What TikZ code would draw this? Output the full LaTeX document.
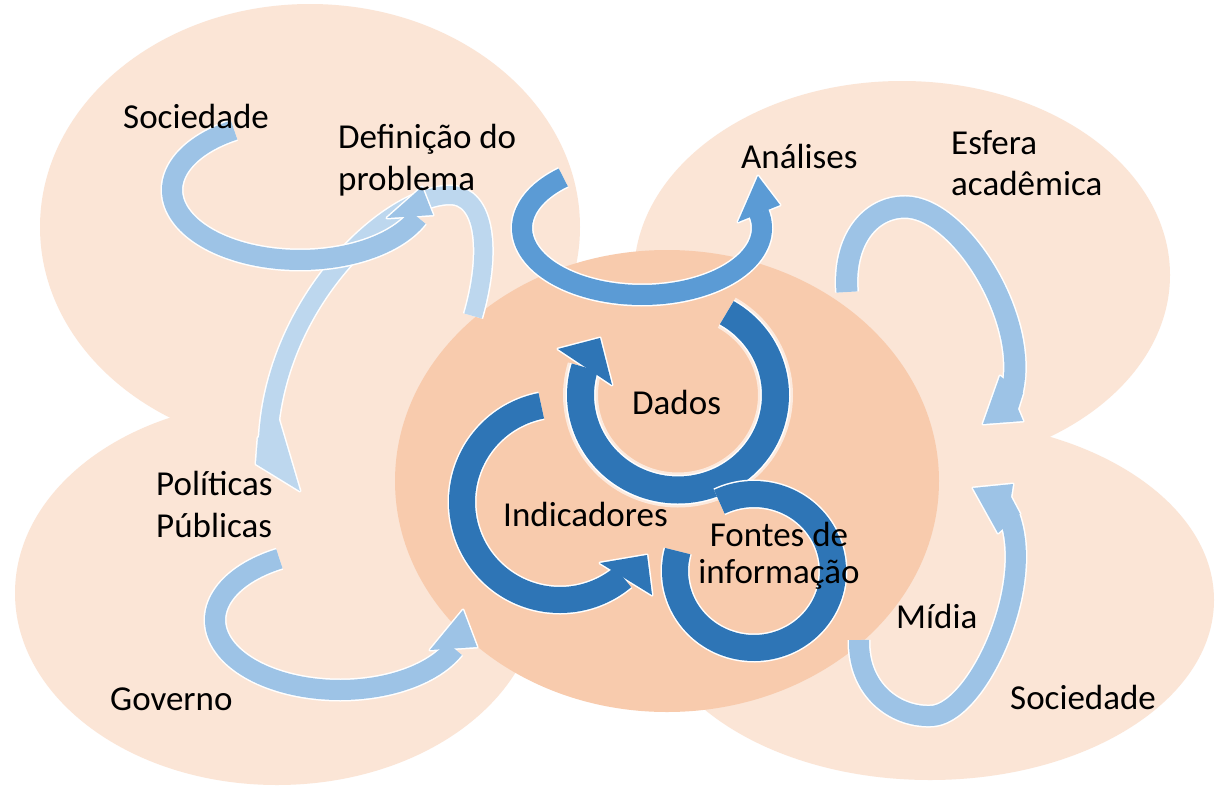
\documentclass[tikz,border=0pt]{standalone}
\usepackage{fontspec}
\setmainfont{Carlito}
\definecolor{pl}{HTML}{FBE5D6}
\definecolor{pc}{HTML}{F8CBAD}
\definecolor{bla}{HTML}{9DC3E6}
\definecolor{blz}{HTML}{BDD7EE}
\definecolor{blm}{HTML}{5B9BD5}
\definecolor{bld}{HTML}{2E75B6}
% #1 colour, #2 band width, #3 centre-line path, #4 head polygon
\newcommand\blockarrow[4]{%
  \draw[white,line width=#2+3] #3;
  \filldraw[white,line width=3,line join=round] #4 -- cycle;
  \draw[#1,line width=#2] #3;
  \fill[#1] #4 -- cycle;}
\begin{document}
\begin{tikzpicture}[x=1pt,y=-1pt,
  lbl/.style={font=\fontsize{35}{42}\selectfont, inner sep=0pt, anchor=base west},
  lblc/.style={lbl, anchor=base},
  blob/.style={fill=pl},
  core/.style={fill=pc}]
\useasboundingbox (0,0) rectangle (1221,787);
\fill[white] (0,0) rectangle (1221,787);
% background ellipses
\fill[blob] (310,227) ellipse[x radius=270pt, y radius=223pt];
\fill[blob] (902,275) ellipse[x radius=268pt, y radius=194pt];
\fill[blob] (277,593) ellipse[x radius=262pt, y radius=192pt];
\fill[blob] (930,600) ellipse[x radius=284pt, y radius=180pt];
\fill[core] (667,481) ellipse[x radius=272pt, y radius=231pt];
% B: Definicao -> Politicas (lightest)
\blockarrow{blz}{18}{(473,316) .. controls (492,250) and (485,195) .. (450,195) .. controls (390,195) and (275,300) .. (268,440)}{(279,420) -- (300,491) -- (256,464) -- (258,438)}
% A: Sociedade -> Definicao
\blockarrow{bla}{20}{plot[domain=239:23,samples=90] ({300+128*cos(\x)},{190+70*sin(\x)})}{(387,218) -- (422,187) -- (433,215)}
% C: -> Analises
\blockarrow{blm}{20}{plot[domain=229:-13,samples=90] ({642+120*cos(\x)},{228+67*sin(\x)})}{(738,222) -- (758,176) -- (780,205)}
% D: Esfera academica
\blockarrow{bla}{21}{(847,292) .. controls (843,240) and (870,207) .. (905,207) .. controls (960,207) and (1030,320) .. (1012,392)}{(1000,376) -- (983,424) -- (1023,421) -- (1018,409) -- (1023,393)}
% E: Midia
\blockarrow{bla}{20}{(859,640) .. controls (858,690) and (895,717) .. (930,716) .. controls (975,717) and (1035,590) .. (1010,518)}{(998,533) -- (973,488) -- (1013,484) -- (1011,497) -- (1020,514)}
% F: Governo
\blockarrow{bla}{20}{plot[domain=241:24,samples=90] ({340+125*cos(\x)},{620+70*sin(\x)})}{(430,650) -- (463,610) -- (477,647)}
% H: Indicadores
\blockarrow{bld}{26}{plot[domain=259:50,samples=90] ({560+98*cos(\x)},{502+98*sin(\x)})}{(600,563) -- (647,555) -- (652,595)}
% G: Dados (with soft glow)
\draw[white,line width=35,opacity=0.6] plot[domain=-60:197,samples=90] ({678+97.5*cos(\x)},{395+95*sin(\x)});
\blockarrow{bld}{27}{plot[domain=-60:197,samples=90] ({678+97.5*cos(\x)},{395+95*sin(\x)})}{(558,349) -- (600,338) -- (612,385)}
% I: Fontes de informacao (ring without head)
\draw[white,line width=29] plot[domain=244:555,samples=110] ({754+79*cos(\x)},{571+77*sin(\x)});
\draw[bld,line width=26] plot[domain=244:555,samples=110] ({754+79*cos(\x)},{571+77*sin(\x)});
% labels
\node[lbl] (soc1) at (123,128) {Sociedade};
\node[lbl] (def1) at (338,148) {Definição do};
\node[lbl] (def2) at (338,190) {problema};
\node[lbl] (ana) at (741,168) {Análises};
\node[lbl] (esf1) at (951,154) {Esfera};
\node[lbl] (esf2) at (951,195) {acadêmica};
\node[lbl] (dad) at (632,414) {Dados};
\node[lbl] (ind) at (503,526) {Indicadores};
\node[lblc] (fon1) at (779,546) {Fontes de};
\node[lblc] (fon2) at (779,583) {informação};
\node[lbl] (mid) at (896,628) {Mídia};
\node[lbl] (soc2) at (1010,709) {Sociedade};
\node[lbl] (pol1) at (156,495) {Políticas};
\node[lbl] (pol2) at (156,537) {Públicas};
\node[lbl] (gov) at (110,710) {Governo};
\end{tikzpicture}
\end{document}
